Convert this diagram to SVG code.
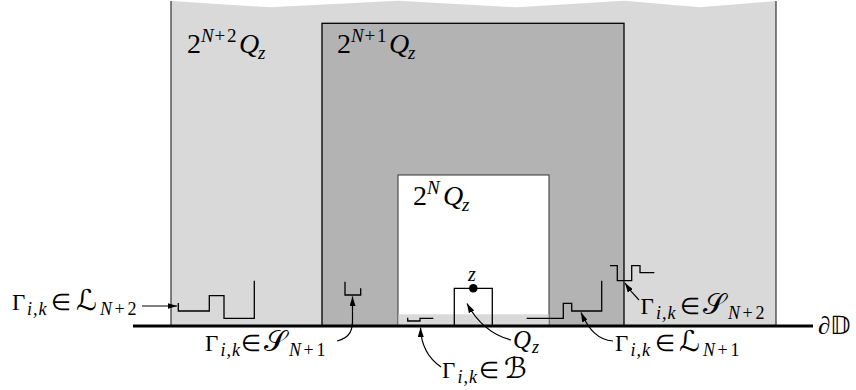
<svg xmlns="http://www.w3.org/2000/svg" width="856" height="390" viewBox="0 0 856 390">
<style>
text{font-family:'Times New Roman','Liberation Serif',serif;fill:#000}
.it{font-style:italic}
.lab{font-size:23px}
.sub{font-size:18px;font-style:italic}
.subr{font-size:18px;font-style:normal}
.scr{font-size:29px;font-family:'DejaVu Serif','DejaVu Sans',serif}
.big{font-size:28px}
.sup{font-size:19px}
.curve{fill:none;stroke:#000;stroke-width:1.3}
.arr{fill:none;stroke:#000;stroke-width:1.2;marker-end:url(#ah)}
</style>
<defs>
<marker id="ah" markerUnits="userSpaceOnUse" markerWidth="10" markerHeight="6" refX="9.5" refY="3" orient="auto">
<path d="M0,0 L9.5,3 L0,6 z" fill="#000"/>
</marker>
</defs>
<rect width="856" height="390" fill="#fff"/>
<g id="region-N2">
<polygon points="171,1 270,7.3 398,0.7 517,7.3 624,0.7 700,7.3 776,1 776,326 171,326" fill="#d9d9d9"/>
<line x1="171" y1="1" x2="171" y2="326" stroke="#333" stroke-width="1.2"/>
<line x1="776" y1="1" x2="776" y2="326" stroke="#333" stroke-width="1.2"/>
<text class="big" y="53"><tspan x="187">2</tspan><tspan class="sup it" x="201" y="42">N</tspan><tspan class="sup" x="214.5">+</tspan><tspan class="sup" x="227">2</tspan><tspan class="it" x="239" y="53">Q</tspan><tspan class="sup it" x="258" y="59">z</tspan></text>
</g>
<g id="region-N1">
<rect x="322" y="23.3" width="302" height="302.7" fill="#b3b3b3" stroke="#000" stroke-width="1.3"/>
<text class="big" y="53"><tspan x="337">2</tspan><tspan class="sup it" x="351" y="42">N</tspan><tspan class="sup" x="364.5">+</tspan><tspan class="sup" x="377">1</tspan><tspan class="it" x="389" y="53">Q</tspan><tspan class="sup it" x="408" y="59">z</tspan></text>
</g>
<g id="region-N">
<rect x="398" y="175" width="151" height="151" fill="#fff" stroke="#333" stroke-width="1"/>
<rect x="398.5" y="314.3" width="150" height="11.7" fill="#d9d9d9"/>
<text class="big" y="205"><tspan x="413">2</tspan><tspan class="sup it" x="427" y="194">N</tspan><tspan class="it" x="443" y="205">Q</tspan><tspan class="sup it" x="462" y="211">z</tspan></text>
</g>
<g id="baseline">
<line x1="133" y1="326" x2="813" y2="326" stroke="#000" stroke-width="3"/>
<text x="818" y="334" font-size="25">∂𝔻</text>
</g>
<g id="Qz">
<polyline class="curve" points="454.3,326 454.3,288.3 492.3,288.3 492.3,326"/>
<circle cx="473.3" cy="288.3" r="4.3" fill="#000"/>
<text class="it" x="468" y="281" font-size="20">z</text>
<text class="lab" y="348"><tspan class="it" x="513" font-size="25">Q</tspan><tspan class="sub" x="532" y="353">z</tspan></text>
</g>
<g id="gamma-L-N2">
<polyline class="curve" points="178.3,303 178.3,311 209.3,311 209.3,295.7 224,295.7 224,318.3 254.3,318.3 254.3,280.7"/>
<text class="lab" y="310"><tspan x="12">Γ</tspan><tspan class="sub" x="27" y="315" letter-spacing="1">i,k</tspan><tspan x="51" y="310">∈</tspan><tspan class="scr" x="76">ℒ</tspan><tspan class="sub" x="100" y="315">N</tspan><tspan class="subr" x="114.5">+</tspan><tspan class="subr" x="127.5">2</tspan></text>
</g>
<g id="gamma-S-N1">
<polyline class="curve" points="345,281.7 345,295 360.7,295 360.7,288.3"/>
<text class="lab" y="350.5"><tspan x="205">Γ</tspan><tspan class="sub" x="220.5" y="355.5" letter-spacing="1">i,k</tspan><tspan x="241" y="350.5">∈</tspan><tspan class="scr" x="264">𝒮</tspan><tspan class="sub" x="289" y="355.5">N</tspan><tspan class="subr" x="303.5">+</tspan><tspan class="subr" x="316.5">1</tspan></text>
</g>
<g id="gamma-B">
<polyline class="curve" points="407.7,317.7 407.7,321 420,321 420,318.3 433.3,318.3"/>
<text class="lab" y="378"><tspan x="442">Γ</tspan><tspan class="sub" x="457.5" y="383" letter-spacing="1">i,k</tspan><tspan x="479" y="378">∈</tspan><tspan class="scr" x="504" font-size="25">ℬ</tspan></text>
</g>
<g id="gamma-L-N1">
<polyline class="curve" points="526.7,318.3 563.3,318.3 563.3,303.3 571.7,303.3 571.7,311 601.7,311 601.7,280.7"/>
<text class="lab" y="350.5"><tspan x="615">Γ</tspan><tspan class="sub" x="630.5" y="355.5" letter-spacing="1">i,k</tspan><tspan x="655" y="350.5">∈</tspan><tspan class="scr" x="679">ℒ</tspan><tspan class="sub" x="703" y="355.5">N</tspan><tspan class="subr" x="717.5">+</tspan><tspan class="subr" x="730.5">1</tspan></text>
</g>
<g id="gamma-S-N2">
<polyline class="curve" points="610,265.7 617.3,265.7 617.3,280.7 631.7,280.7 631.7,265.7 640,265.7 640,272.7 654.3,272.7"/>
<text class="lab" y="314"><tspan x="640.5">Γ</tspan><tspan class="sub" x="656" y="319" letter-spacing="1">i,k</tspan><tspan x="680" y="314">∈</tspan><tspan class="scr" x="703">𝒮</tspan><tspan class="sub" x="728" y="319">N</tspan><tspan class="subr" x="742.5">+</tspan><tspan class="subr" x="755.5">2</tspan></text>
</g>
<g id="connectors">
<path class="arr" d="M142,306 L177,306"/>
<path class="arr" d="M337,341 C350,338 353,330 352.5,318 L352.5,296.5"/>
<path class="arr" d="M441,367 C428,358 421,345 420.5,327.5"/>
<path class="arr" d="M511,340 C492,335 477,322 467,303.5"/>
<path class="arr" d="M613,341 C598,340 589,330 581,312.5"/>
<path class="arr" d="M639,300 C633,294 629,289 625,283"/>
</g>
</svg>
